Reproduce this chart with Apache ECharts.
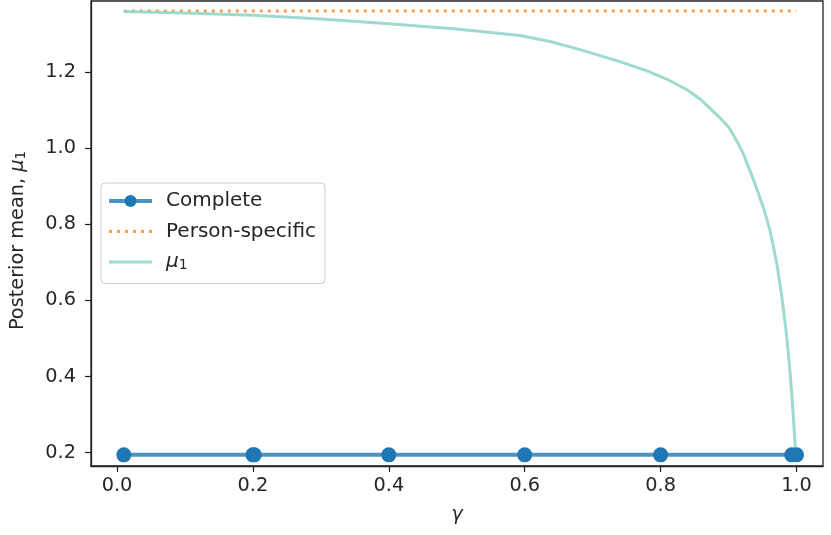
<!DOCTYPE html>
<html><head><meta charset="utf-8">
<script src="https://cdn.jsdelivr.net/npm/echarts@6/dist/echarts.min.js"></script>
<style>html,body{margin:0;padding:0;background:#fff}#c{width:831px;height:535px}</style>
</head><body><div id="c"></div>
<script>
const completeGamma = [0.01, 0.2, 0.202, 0.4, 0.6, 0.8, 0.993, 1.0];
const completeValues = [0.194, 0.194, 0.194, 0.194, 0.194, 0.194, 0.194, 0.194];
const personGamma = [0.01, 1.0];
const personValues = [1.361, 1.361];
const muGamma = [0.01, 0.1, 0.2, 0.3, 0.4, 0.5, 0.593, 0.637, 0.667, 0.7, 0.74, 0.78, 0.814, 0.84, 0.858, 0.887, 0.9, 0.907, 0.915, 0.922, 0.936, 0.951, 0.961, 0.971, 0.978, 0.9845, 0.9894, 0.9934, 0.9963, 0.9988, 1.0];
const muValues = [1.360, 1.356, 1.350, 1.340, 1.328, 1.314, 1.297, 1.281, 1.267, 1.250, 1.228, 1.204, 1.178, 1.153, 1.130, 1.081, 1.056, 1.035, 1.010, 0.985, 0.921, 0.846, 0.785, 0.697, 0.615, 0.522, 0.434, 0.346, 0.268, 0.200, 0.194];
const xTicks = [0.0, 0.2, 0.4, 0.6, 0.8, 1.0];
const yTicks = [0.2, 0.4, 0.6, 0.8, 1.0, 1.2];

const pair = (xs, ys) => xs.map((x, i) => [x, ys[i]]);
const FONT = 'DejaVu Sans';
const FS = 19.3;
const LFS = 20;
const TXT = '#262626';
const chart = echarts.init(document.getElementById('c'), null, {renderer: 'canvas'});
chart.setOption({
  animation: false,
  backgroundColor: '#fff',
  grid: {left: 91, right: 8, top: 1, bottom: 69, show: true, borderColor: '#222', borderWidth: 1.3, backgroundColor: 'transparent'},
  xAxis: {
    type: 'value', min: -0.0383, max: 1.039,
    splitLine: {show: false},
    axisLine: {show: true, onZero: false, lineStyle: {color: '#222', width: 1.3}},
    axisTick: {show: true, length: 6, inside: false, customValues: xTicks, lineStyle: {color: '#222', width: 1.2}},
    axisLabel: {customValues: xTicks, formatter: v => v.toFixed(1), color: TXT, fontFamily: FONT, fontSize: FS, margin: 10},
    name: 'γ', nameLocation: 'middle', nameGap: 39,
    nameTextStyle: {color: TXT, fontFamily: FONT, fontSize: FS, fontStyle: 'italic'}
  },
  yAxis: {
    type: 'value', min: 0.1647, max: 1.3876,
    splitLine: {show: false},
    axisLine: {show: true, onZero: false, lineStyle: {color: '#222', width: 1.3}},
    axisTick: {show: true, length: 6, inside: false, customValues: yTicks, lineStyle: {color: '#222', width: 1.2}},
    axisLabel: {customValues: yTicks, formatter: v => v.toFixed(1), color: TXT, fontFamily: FONT, fontSize: FS, margin: 15},
    name: 'Posterior mean, {i|μ}{s|1}', nameLocation: 'middle', nameGap: 63, nameRotate: 90,
    nameTextStyle: {color: TXT, fontFamily: FONT, fontSize: FS, padding: [0, 14, 0, 0],
      rich: {i: {fontFamily: FONT, fontSize: FS, fontStyle: 'italic', color: TXT},
             s: {fontFamily: FONT, fontSize: 13.5, color: TXT, padding: [7, 0, 0, 0]}}}
  },
  legend: {
    left: 101, top: 183, orient: 'vertical',
    itemWidth: 43, itemHeight: 15, itemGap: 10.5,
    padding: [8, 9, 11, 6],
    backgroundColor: 'rgba(255,255,255,0.8)', borderColor: '#cccccc', borderWidth: 1, borderRadius: 4,
    textStyle: {color: TXT, fontFamily: FONT, fontSize: LFS, padding: [0, 0, 0, 9],
      rich: {i: {fontFamily: FONT, fontSize: LFS, fontStyle: 'italic', color: TXT},
             s: {fontFamily: FONT, fontSize: 14, color: TXT, padding: [7, 0, 0, 0]}}},
    formatter: n => n === 'mu1' ? '{i|μ}{s|1}' : n,
    data: [
      {name: 'Complete', lineStyle: {width: 4}},
      {name: 'Person-specific', itemStyle: {opacity: 0}, lineStyle: {width: 3}},
      {name: 'mu1', itemStyle: {opacity: 0}, lineStyle: {width: 3}}
    ]
  },
  series: [
    {name: 'Complete', type: 'line', data: pair(completeGamma, completeValues),
     symbol: 'circle', symbolSize: 15, showSymbol: true,
     itemStyle: {color: '#1f77b4'},
     lineStyle: {color: '#1f77b4', width: 4, opacity: 0.8}, z: 3},
    {name: 'Person-specific', type: 'line', data: pair(personGamma, personValues),
     symbol: 'none', itemStyle: {color: '#ff7f0e'},
     lineStyle: {color: '#ff7f0e', width: 3, type: [3, 5], opacity: 0.75}, z: 2},
    {name: 'mu1', type: 'line', data: pair(muGamma, muValues),
     symbol: 'none', smooth: false, itemStyle: {color: '#8dd3c7'},
     lineStyle: {color: '#8dd3c7', width: 3, opacity: 0.85, join: 'round'}, z: 2}
  ]
});
</script></body></html>
